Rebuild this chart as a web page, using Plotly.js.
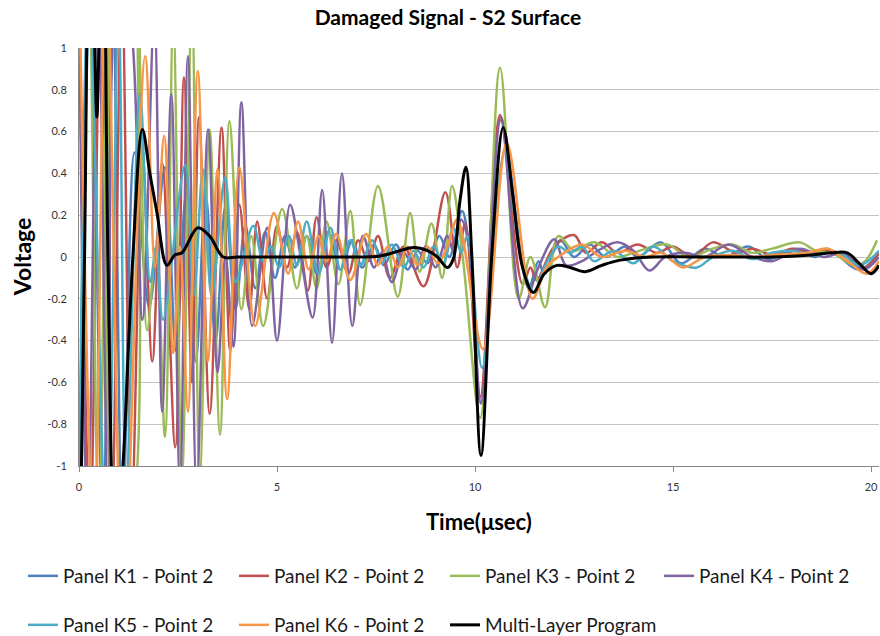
<!DOCTYPE html>
<html>
<head>
<meta charset="utf-8">
<script src="https://cdn.plot.ly/plotly-3.0.1.min.js"></script>
<style>html,body{margin:0;padding:0;background:#fff}#chart{width:880px;height:636px}</style>
</head>
<body>
<div id="chart"></div>
<script>
// Series names
const seriesNames = ["Panel K1 - Point 2","Panel K2 - Point 2","Panel K3 - Point 2","Panel K4 - Point 2","Panel K5 - Point 2","Panel K6 - Point 2","Multi-Layer Program"];

// Panel K1 (time in µsec, voltage) – extrema
const tK1 = [0,0.3,0.6,0.85,1.1,1.4,1.77,2.17,2.45,2.7,2.95,3.2,3.45,3.7,3.95,4.2,4.45,4.7,4.95,5.2,5.45,5.75,6.0,6.3,6.6,6.9,7.15,7.45,7.7,8.0,8.3,8.55,8.8,9.1,9.35,9.67,9.85,10.15,10.65,11.35,11.6,11.75,12.15,12.5,12.9,13.3,13.8,14.1,14.7,15.2,15.8,16.3,16.9,17.4,18.1,18.6,18.9,19.7,20.2];
const vK1 = [-1.2,1.35,-1.3,1.3,-1.3,0.5,-0.24,0.43,-0.45,0.3,-0.5,0.3,-0.4,0.25,-0.25,0.15,-0.15,0.12,-0.1,0.1,-0.05,0.1,-0.08,0.12,-0.06,0.08,-0.05,0.06,-0.04,0.06,-0.06,0.03,-0.03,0.1,0.0,0.22,0.05,-0.7,0.67,-0.15,-0.02,-0.08,0.08,0.0,0.06,0.0,0.05,0.0,0.07,-0.03,0.04,0.0,0.05,-0.01,0.04,0.0,0.04,-0.06,0.02];

// Panel K2
const tK2 = [0,0.28,0.55,0.82,1.08,1.33,1.6,1.85,2.1,2.43,2.65,2.85,3.03,3.3,3.6,3.82,4.05,4.3,4.5,4.75,5.0,5.25,5.5,5.78,6.0,6.25,6.5,6.8,7.05,7.3,7.55,7.85,8.2,8.7,9.25,9.55,9.75,10.13,10.63,11.2,11.4,11.55,12.0,12.5,12.8,13.2,13.6,14.1,14.6,15.0,15.5,16.0,16.6,17.0,17.5,18.0,18.5,19.0,19.5,19.85,20.2];
const vK2 = [1.3,-1.3,1.3,-1.3,1.3,-1.2,0.5,-0.5,0.45,-0.91,0.86,-0.6,0.67,-0.75,0.62,-0.45,0.25,-0.25,0.17,-0.2,0.15,-0.05,0.12,-0.16,0.19,-0.05,0.08,-0.08,0.08,-0.02,0.1,-0.1,0.05,-0.14,0.31,-0.05,0.16,-0.67,0.68,-0.13,-0.05,-0.11,0.05,0.105,0.02,0.07,0.02,0.06,0.02,0.05,0.0,0.07,0.02,0.04,0.01,0.04,0.02,0.03,-0.01,-0.05,0.02];

// Panel K3
const tK3 = [0,0.25,0.5,0.75,1.0,1.25,1.5,1.72,1.95,2.17,2.38,2.6,2.85,3.05,3.3,3.56,3.8,4.1,4.35,4.65,5.13,5.5,5.75,6.0,6.25,6.55,6.85,7.1,7.55,8.05,8.36,8.6,8.9,9.17,9.42,9.7,10.13,10.63,11.1,11.4,11.77,12.1,12.5,13.0,13.6,14.0,14.85,15.4,16.0,16.5,17.0,17.5,18.2,18.6,19.0,19.6,19.85,20.15];
const vK3 = [-1.3,1.3,-1.3,1.3,-1.3,-1.3,1.1,-0.35,0.05,-0.86,1.15,-1.05,1.2,-1.05,0.61,-0.85,0.65,-0.25,0.1,-0.33,0.23,-0.15,0.1,-0.15,0.17,-0.13,0.22,-0.23,0.34,-0.19,0.21,-0.07,0.16,-0.1,0.34,-0.02,-0.77,0.905,-0.2,0.0,-0.24,0.1,0.03,0.07,0.0,0.02,0.06,0.0,0.04,0.06,0.02,0.04,0.07,0.03,0.02,-0.04,-0.02,0.08];

// Panel K4
const tK4 = [0,0.22,0.48,0.75,1.0,1.25,1.6,1.9,2.1,2.33,2.55,2.75,2.97,3.26,3.5,3.7,3.9,4.1,4.37,4.75,5.0,5.33,5.6,5.9,6.14,6.39,6.64,6.9,7.17,7.45,7.65,7.9,8.2,8.5,8.75,9.0,9.3,9.45,9.65,9.85,10.15,10.65,11.2,11.6,12.0,12.3,12.7,13.1,13.6,14.0,14.4,14.8,15.3,15.8,16.4,17.0,17.5,18.2,18.8,19.3,19.8,20.2];
const vK4 = [1.3,-1.3,1.3,-1.3,1.3,1.2,-0.3,1.15,-0.74,0.78,-1.1,0.96,-1.1,0.61,-0.55,0.0,-0.43,0.74,-0.33,0.14,-0.4,0.25,0.0,-0.29,0.32,-0.41,0.4,-0.33,0.1,-0.05,0.02,-0.12,0.02,-0.06,0.05,-0.05,0.1,0.03,0.18,0.05,-0.7,0.655,-0.245,-0.05,0.085,-0.04,-0.02,0.03,0.07,0.03,-0.065,0.0,0.02,0.0,0.06,0.0,-0.02,0.04,0.0,0.02,-0.06,0.0];

// Panel K5
const tK5 = [0,0.25,0.7,1.0,1.19,1.54,1.8,1.95,2.12,2.68,2.9,3.13,3.35,3.69,3.95,4.4,4.65,4.85,5.05,5.3,5.5,5.75,6.05,6.35,6.6,6.85,7.1,7.4,7.65,7.9,8.2,8.45,8.7,8.95,9.2,9.45,9.65,9.8,10.18,10.75,11.15,11.5,11.75,12.1,12.4,12.7,13.0,13.5,14.0,14.5,15.0,15.6,16.0,16.5,17.0,17.5,18.0,18.5,19.2,19.7,20.2];
const vK5 = [-1.3,1.3,-1.4,1.15,-1.1,0.78,-0.12,0.05,-0.3,0.44,-0.18,0.42,-0.19,0.38,-0.12,0.15,-0.02,0.05,-0.05,0.1,-0.04,0.17,-0.08,0.14,-0.06,0.08,-0.04,0.08,-0.03,0.06,-0.05,0.03,-0.05,0.05,-0.03,0.14,0.02,0.1,-0.53,0.51,0.0,-0.17,-0.05,0.05,0.02,0.05,-0.02,0.03,-0.03,0.05,-0.02,-0.05,0.0,0.03,-0.01,0.02,0.03,0.01,0.02,-0.04,0.03];

// Panel K6
const tK6 = [0,0.38,0.69,1.12,1.67,1.92,2.15,2.38,2.55,2.75,3.0,3.25,3.5,3.74,4.05,4.45,4.92,5.28,5.53,5.8,6.05,6.25,6.5,6.85,7.25,7.55,7.8,8.05,8.3,8.55,8.8,9.05,9.3,9.55,10.2,10.8,11.45,11.8,12.1,12.7,13.2,13.8,14.3,14.7,15.25,15.8,16.5,17.0,17.5,18.4,18.9,19.4,19.9,20.2];
const vK6 = [1.4,-1.4,1.4,-1.6,0.96,-0.05,0.58,-0.46,0.05,-0.74,0.89,-0.5,0.42,-0.68,0.43,-0.33,0.21,-0.08,0.17,-0.06,0.1,-0.02,0.11,-0.11,0.11,-0.04,0.05,-0.05,0.05,-0.04,0.05,-0.03,0.05,0.18,-0.44,0.545,-0.2,-0.05,0.0,0.06,0.0,0.03,0.0,0.02,-0.05,0.0,0.01,0.0,0.01,0.02,0.04,-0.02,-0.08,-0.02];

// Multi-Layer Program
const tML = [0,0.14,0.26,0.38,0.45,0.52,0.62,0.73,0.92,1.11,1.36,1.6,1.79,1.97,2.22,2.42,2.6,3.0,3.3,3.64,4.0,5.0,6.0,7.0,7.6,8.1,8.45,8.8,9.05,9.3,9.45,9.62,9.77,9.92,10.15,10.42,10.71,10.95,11.2,11.47,11.75,12.07,12.4,12.78,13.2,13.66,14.5,15.5,16.5,17.5,18.5,19.0,19.4,19.7,20.0,20.2];
const vML = [-1.8,0,1.5,1.1,0.67,1.1,1.5,0,-1.5,-1.0,0,0.61,0.4,0.21,-0.04,0.01,0.02,0.14,0.1,0,0,0,0,0,0.005,0.03,0.045,0.03,0,-0.05,-0.01,0.27,0.43,0,-0.95,0,0.62,0.3,-0.05,-0.17,-0.08,-0.04,-0.05,-0.07,-0.04,-0.015,0,0,0,0,0.01,0.02,0.02,-0.03,-0.08,-0.04];

// Axis ticks
const yTickVals = [-1,-0.8,-0.6,-0.4,-0.2,0,0.2,0.4,0.6,0.8,1];
const yTickText = ["-1","-0.8","-0.6","-0.4","-0.2","0","0.2","0.4","0.6","0.8","1"];
const xTickVals = [0,5,10,15,20];
const xTickText = ["0","5","10","15","20"];

const colors = ["#4F81BD","#C0504D","#9BBB59","#8064A2","#4BACC6","#F79646","#000000"];
const tArr = [tK1,tK2,tK3,tK4,tK5,tK6,tML];
const vArr = [vK1,vK2,vK3,vK4,vK5,vK6,vML];

const FONT = "Lato, 'Open Sans', sans-serif";

// one legend box per entry, laid out in Excel's 4-column grid (two rows)
const legendIds = ["legend","legend2","legend3","legend4","legend5","legend6","legend7"];
const colX = [23, 234, 445, 659];      // px, left edge of each legend column
const rowY = [576, 625];               // px, centre of each legend row

const traces = seriesNames.map((name, i) => ({
  type: "scatter",
  mode: "lines",
  name: name,
  x: tArr[i],
  y: vArr[i],
  line: {color: colors[i], width: i === 6 ? 3 : 2.5, shape: "spline", smoothing: 1},
  legend: legendIds[i],
  hoverinfo: "skip"
}));

const layout = {
  width: 880, height: 636,
  paper_bgcolor: "#ffffff", plot_bgcolor: "#ffffff",
  margin: {l: 79, r: 1, t: 48, b: 170},
  font: {family: FONT, color: "#222"},
  title: {
    text: "<b>Damaged Signal - S2 Surface</b>",
    font: {family: FONT, size: 21, color: "#000"},
    xref: "container", yref: "container",
    x: 0.509, xanchor: "center", y: 0.972, yanchor: "middle"
  },
  xaxis: {
    range: [0, 20.2],
    tickvals: xTickVals, ticktext: xTickText,
    showgrid: false, zeroline: false,
    showline: true, linecolor: "#868686", linewidth: 1,
    ticks: "outside", ticklen: 5, tickcolor: "#868686",
    ticklabelstandoff: 6,
    tickfont: {family: FONT, size: 11, color: "#333"},
    fixedrange: true
  },
  yaxis: {
    range: [-1, 1],
    tickvals: yTickVals, ticktext: yTickText,
    showgrid: true, gridcolor: "#c4c4c4", gridwidth: 1,
    zeroline: false,
    showline: true, linecolor: "#868686", linewidth: 1,
    ticks: "", ticklabelstandoff: 9,
    tickfont: {family: FONT, size: 11, color: "#333"},
    fixedrange: true
  },
  annotations: [
    {text: "<b>Time(μsec)</b>", xref: "paper", yref: "paper", x: 0.5, y: -0.1316,
     xanchor: "center", yanchor: "middle", showarrow: false,
     font: {family: FONT, size: 22, color: "#000"}},
    {text: "<b>Voltage</b>", xref: "paper", yref: "paper", x: -0.071, y: 0.5,
     xanchor: "center", yanchor: "middle", textangle: -90, showarrow: false,
     font: {family: FONT, size: 23, color: "#000"}}
  ],
  showlegend: true
};

legendIds.forEach((id, i) => {
  const col = i % 4, row = Math.floor(i / 4);
  layout[id] = {
    orientation: "h",
    xref: "container", yref: "container",
    x: colX[col] / 880, xanchor: "left",
    y: 1 - rowY[row] / 636, yanchor: "middle",
    font: {family: FONT, size: 19, color: "#1a1a1a"},
    bgcolor: "rgba(0,0,0,0)",
    itemwidth: 30
  };
});

Plotly.newPlot("chart", traces, layout, {staticPlot: true, displayModeBar: false});
</script>
</body>
</html>
